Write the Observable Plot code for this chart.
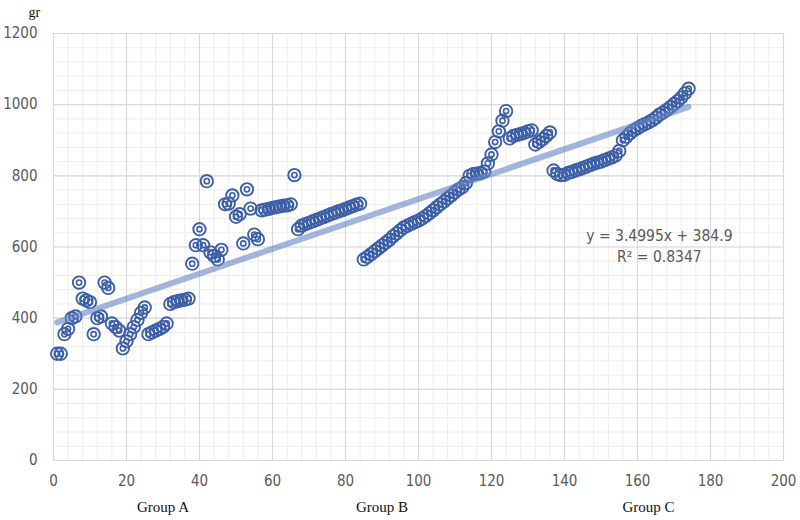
<!DOCTYPE html>
<html><head><meta charset="utf-8">
<script src="https://cdn.jsdelivr.net/npm/d3@7"></script>
<script src="https://cdn.jsdelivr.net/npm/@observablehq/plot@0.6"></script>
<style>body{margin:0;background:#fff} #chart svg{display:block}</style>
</head><body><div id="chart"></div>
<script>
// Measured values (gr), one per sample index starting at 1
const weights = [
  300, 300, 355, 370, 400, 405, 500, 455, 450, 445,
  355, 400, 405, 500, 485, 385, 375, 365, 315, 335,
  355, 375, 395, 415, 430, 355, 360, 365, 370, 375,
  385, 440, 445, 448, 450, 452, 455, 553, 605, 650,
  605, 785, 585, 575, 565, 592, 720, 722, 745, 685,
  692, 610, 762, 708, 635, 622, 703, 705, 707, 710,
  712, 714, 716, 717, 720, 802, 650, 660, 664, 668,
  672, 676, 680, 684, 688, 692, 696, 700, 703, 707,
  711, 715, 719, 722, 565, 572, 580, 588, 596, 604,
  612, 620, 630, 638, 647, 655, 660, 665, 670, 674,
  680, 687, 695, 703, 712, 720, 728, 737, 745, 754,
  762, 768, 780, 800, 805, 806, 808, 812, 835, 860,
  895, 925, 955, 982, 905, 912, 915, 918, 921, 925,
  928, 888, 895, 903, 912, 922, 815, 805, 802, 803,
  808, 811, 815, 818, 822, 826, 830, 834, 837, 840,
  844, 848, 852, 857, 870, 900, 910, 920, 928, 934,
  940, 945, 950, 956, 963, 972, 978, 985, 993, 1002,
  1010, 1020, 1032, 1045
];
const xTicks = [0, 20, 40, 60, 80, 100, 120, 140, 160, 180, 200];
const yTicks = [0, 200, 400, 600, 800, 1000, 1200];
const xMinorTicks = d3.range(0, 201, 4);
const yMinorTicks = d3.range(0, 1201, 40);
const groupNames = ["Group A", "Group B", "Group C"];
const groupCenters = [30, 90, 163];
const slope = 3.4995;
const intercept = 384.9;
const rSquared = 0.8347;
const trendRange = [1, 174];
const equationLines = ["y = 3.4995x + 384.9", "R² = 0.8347"];
const unitLabel = "gr";

const points = weights.map((w, i) => ({x: i + 1, y: w}));
const trend = trendRange.map(x => ({x, y: slope * x + intercept}));
const eqRows = equationLines.map((t, i) => ({t, y: i === 0 ? 632 : 573}));

const sansNarrow = "'Liberation Sans Narrow', 'DejaVu Sans Condensed', 'Liberation Sans', sans-serif";
const serif = "'Liberation Serif', 'DejaVu Serif', serif";

const chart = Plot.plot({
  width: 800, height: 520,
  marginLeft: 53, marginRight: 17, marginTop: 33, marginBottom: 60,
  x: {domain: [0, 200]},
  y: {domain: [0, 1200]},
  style: {fontFamily: sansNarrow, color: "#595959", background: "#fff"},
  marks: [
    Plot.gridX(xMinorTicks, {stroke: "#ededed", strokeOpacity: 1, strokeWidth: 1}),
    Plot.gridY(yMinorTicks, {stroke: "#ededed", strokeOpacity: 1, strokeWidth: 1}),
    Plot.gridX(xTicks, {stroke: "#d9d9d9", strokeOpacity: 1, strokeWidth: 1.2}),
    Plot.gridY(yTicks, {stroke: "#d9d9d9", strokeOpacity: 1, strokeWidth: 1.2}),
    Plot.axisX({ticks: xTicks, tickFormat: d => String(d), tickSize: 0, tickPadding: 15, fontSize: 15, label: null}),
    Plot.axisY({ticks: yTicks, tickFormat: d => String(d), tickSize: 0, tickPadding: 16, fontSize: 15, label: null}),
    Plot.axisX({ticks: groupCenters, tickFormat: d => groupNames[groupCenters.indexOf(d)],
      tickSize: 0, tickPadding: 41, fontSize: 15, fontFamily: serif, fill: "#111", label: null}),
    Plot.dot(points, {x: "x", y: "y", r: 6.2, stroke: "#3d5fa6", strokeWidth: 1.9, fill: "none"}),
    Plot.dot(points, {x: "x", y: "y", r: 2.6, stroke: "#3d5fa6", strokeWidth: 1.6, fill: "none"}),
    Plot.line(trend, {x: "x", y: "y", stroke: "#6684c1", strokeOpacity: 0.6, strokeWidth: 6}),
    Plot.text(eqRows, {x: 166, y: "y", text: "t", fontSize: 15.5, fill: "#595959", fontFamily: sansNarrow}),
    Plot.text([unitLabel], {frameAnchor: "top-left", dx: -25, dy: -26, fontSize: 14, fontFamily: serif, fill: "#111"})
  ]
});
document.getElementById("chart").appendChild(chart);
</script>
</body></html>
